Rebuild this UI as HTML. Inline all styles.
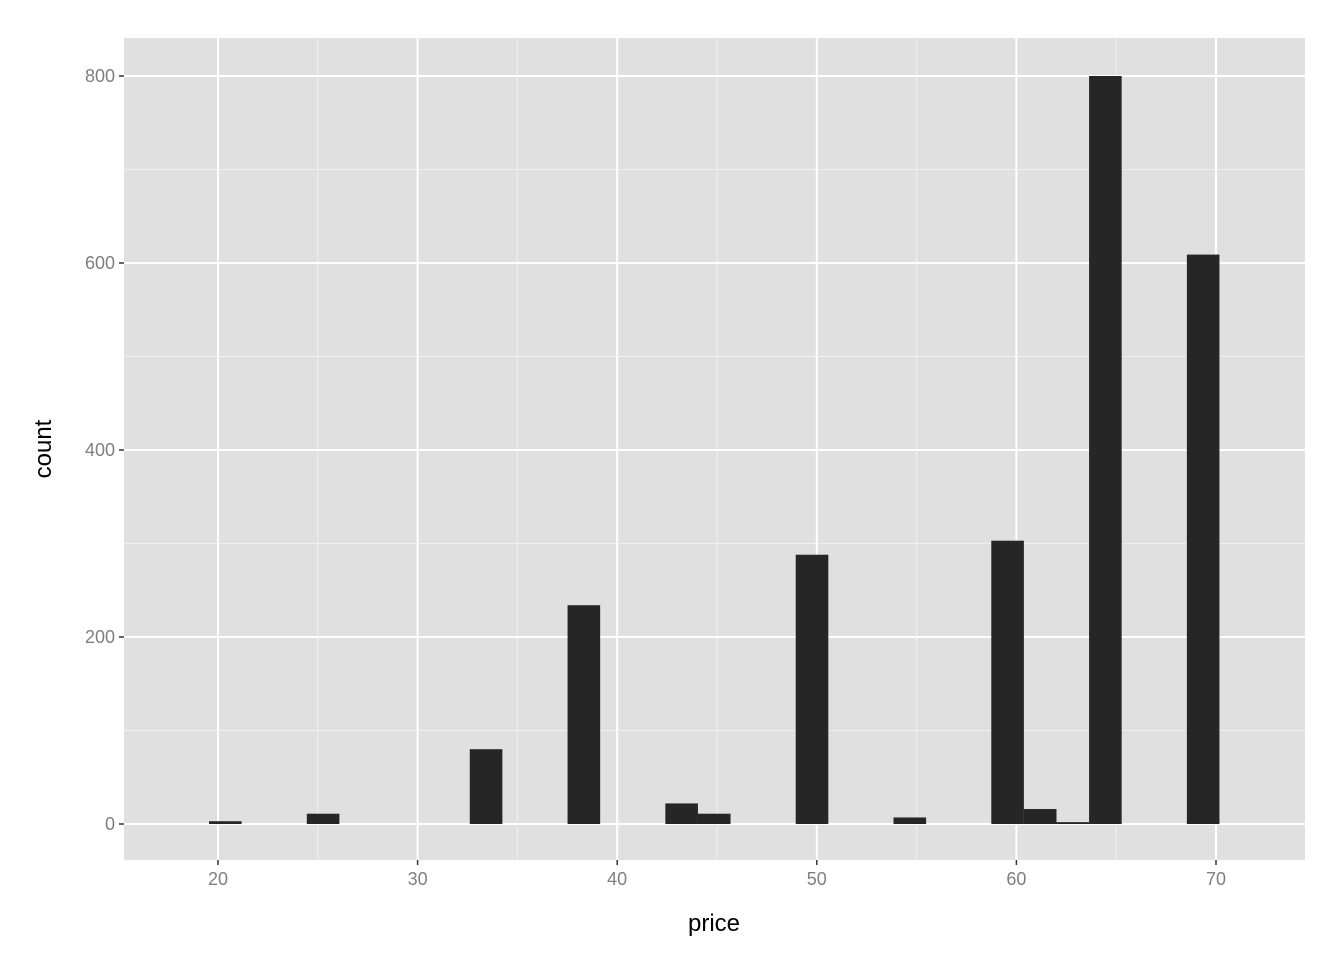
<!DOCTYPE html>
<html><head><meta charset="utf-8"><style>body{margin:0;background:#fff}svg{display:block}</style></head>
<body>
<svg id="chart" width="1344" height="960" xmlns="http://www.w3.org/2000/svg" font-family="Liberation Sans, Arial, sans-serif">
<rect x="124" y="38" width="1181" height="822" fill="#e0e0e0"/>
<g id="grid"></g>
<g id="bars"></g>
<g id="axes"></g>
<text x="714" y="931" font-size="24" text-anchor="middle" fill="#000">price</text>
<text transform="translate(51,449) rotate(-90)" font-size="24" text-anchor="middle" fill="#000">count</text>
</svg>
<script>
const binStart = 19.55;
const binWidth = 1.633;
const binIndex = [0, 3, 8, 11, 14, 15, 18, 21, 24, 25, 26, 27, 30];
const counts = [3, 11, 80, 234, 22, 11, 288, 7, 303, 16, 2, 800, 609];
const xTicks = [20, 30, 40, 50, 60, 70];
const xMinor = [25, 35, 45, 55, 65];
const yTicks = [0, 200, 400, 600, 800];
const yMinor = [100, 300, 500, 700];
const NS = "http://www.w3.org/2000/svg";
const X = v => 218 + (v - 20) * 19.96;
const Y = v => 824 - v * 0.935;
const L = 124, R = 1305, T = 38, B = 860;
function mk(tag, attrs, parent){const e=document.createElementNS(NS,tag);for(const k in attrs)e.setAttribute(k,attrs[k]);parent.appendChild(e);return e;}
const grid=document.getElementById('grid'), bars=document.getElementById('bars'), axes=document.getElementById('axes');
xMinor.forEach(v=>{const e=mk('line',{x1:X(v),x2:X(v),y1:T,y2:B,stroke:'#f0f0f0','stroke-width':1},grid);

});
yMinor.forEach(v=>{const e=mk('line',{x1:L,x2:R,y1:Y(v),y2:Y(v),stroke:'#f0f0f0','stroke-width':1},grid);

});
xTicks.forEach(v=>{const e=mk('line',{x1:X(v),x2:X(v),y1:T,y2:B,stroke:'#fff','stroke-width':2},grid);


const t=mk('line',{x1:X(v),x2:X(v),y1:B,y2:B+5,stroke:'#333','stroke-width':1.5},axes);


const l=mk('text',{x:X(v),y:B+25,'font-size':18,fill:'#7f7f7f','text-anchor':'middle'},axes);l.textContent=v;

});
yTicks.forEach(v=>{const e=mk('line',{x1:L,x2:R,y1:Y(v),y2:Y(v),stroke:'#fff','stroke-width':2},grid);


const t=mk('line',{x1:L-5,x2:L,y1:Y(v),y2:Y(v),stroke:'#333','stroke-width':1.5},axes);


const l=mk('text',{x:L-9,y:Y(v)+6,'font-size':18,fill:'#7f7f7f','text-anchor':'end'},axes);l.textContent=v;

});
binIndex.forEach((b,i)=>{const x0=X(binStart+b*binWidth), x1=X(binStart+(b+1)*binWidth);
const r=mk('rect',{x:x0,y:Y(counts[i]),width:x1-x0,height:Y(0)-Y(counts[i]),fill:'#262626'},bars);

});
</script>
</body></html>
